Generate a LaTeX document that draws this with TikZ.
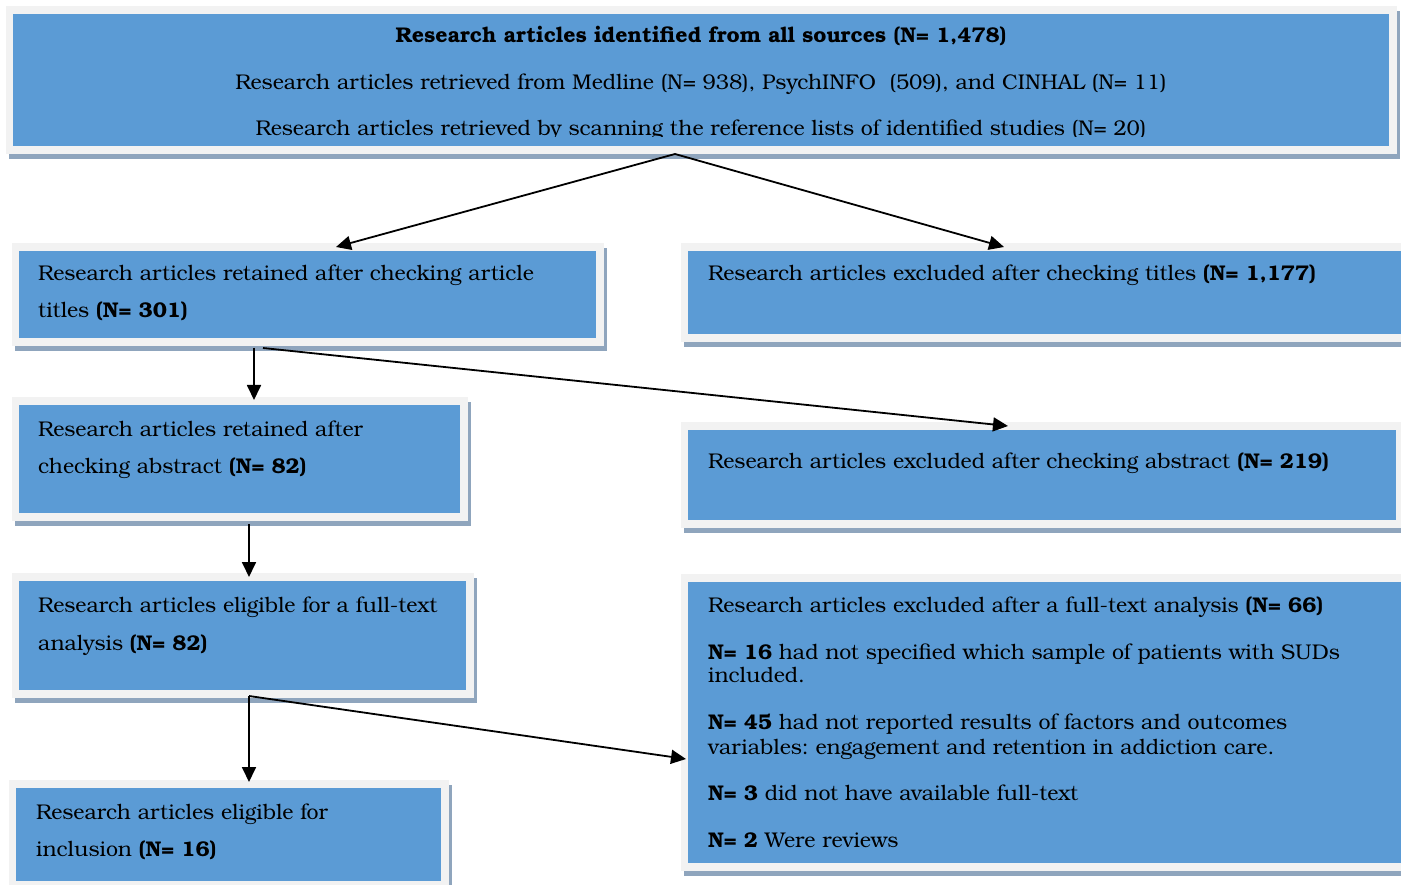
\documentclass[tikz,border=0pt]{standalone}
\usepackage{fontspec}
\setmainfont{TeX Gyre Bonum}
\usetikzlibrary{arrows.meta}
\definecolor{boxblue}{RGB}{91,155,213}
\definecolor{framegray}{RGB}{242,242,242}
\definecolor{shadowc}{RGB}{143,165,189}
\tikzset{
  bluebox/.style={fill=boxblue, draw=none, inner sep=0pt, outer sep=0pt, anchor=north west},
  txt/.style={anchor=base west, inner sep=0pt, font=\fontsize{21.3}{25}\selectfont\frenchspacing},
  ctxt/.style={anchor=base, inner sep=0pt, font=\fontsize{21.3}{25}\selectfont\frenchspacing},
  arr/.style={draw=black, line width=1.8pt, -{Triangle[length=15pt,width=14pt]}},
}
\newcommand\flowbox[5]{%
  \fill[shadowc] (#2-4,#3-3) rectangle (#4+11,#5+13);
  \fill[framegray] (#2-7,#3-8) rectangle (#4+8,#5+8);
  \node[bluebox, minimum width={(#4-#2)*1pt}, minimum height={(#5-#3)*1pt}] (#1) at (#2,#3) {};
}
\begin{document}
\begin{tikzpicture}[x=1pt,y=-1pt]
\clip (0,0) rectangle (1401,885);
\fill[white] (0,0) rectangle (1401,885);

% boxes
\flowbox{top}{13}{14}{1389}{146}
\flowbox{ret1}{19}{251}{596}{338}
\flowbox{exc1}{688}{251}{1410}{334}
\flowbox{ret2}{19}{405}{460}{513}
\flowbox{exc2}{688}{430}{1396}{520}
\flowbox{elig}{19}{581}{466}{690}
\flowbox{exc3}{688}{582}{1410}{863}
\flowbox{incl}{16}{788}{441}{881}

% top box text
\node[ctxt] (t1) at (701,43) {\textbf{Research articles identified from all sources (N= 1,478)}};
\node[ctxt] (t2) at (701,90) {Research articles retrieved from Medline (N= 938), PsychINFO\ \ (509), and CINHAL (N= 11)};
\begin{scope}
  \clip (13,100) rectangle (1389,137);
  \node[ctxt] (t3) at (701,136) {Research articles retrieved by scanning the reference lists of identified studies (N= 20)};
\end{scope}

% left column text
\node[txt] (r1a) at (38,281) {Research articles retained after checking article};
\node[txt] (r1b) at (38,318) {titles \textbf{(N= 301)}};
\node[txt] (r2a) at (38,436) {Research articles retained after};
\node[txt] (r2b) at (38,473) {checking abstract \textbf{(N= 82)}};
\node[txt] (ela) at (38,612) {Research articles eligible for a full-text};
\node[txt] (elb) at (38,650) {analysis \textbf{(N= 82)}};
\node[txt] (ina) at (36,819) {Research articles eligible for};
\node[txt] (inb) at (36,856) {inclusion \textbf{(N= 16)}};

% right column text
\node[txt] (e1) at (708,281) {Research articles excluded after checking titles \textbf{(N= 1,177)}};
\node[txt] (e2) at (708,468) {Research articles excluded after checking abstract \textbf{(N= 219)}};
\node[txt] (e3a) at (708,612) {Research articles excluded after a full-text analysis \textbf{(N= 66)}};
\node[txt] (e3b) at (708,659) {\textbf{N= 16} had not specified which sample of patients with SUDs};
\node[txt] (e3c) at (708,682) {included.};
\node[txt] (e3d) at (708,729) {\textbf{N= 45} had not reported results of factors and outcomes};
\node[txt] (e3e) at (708,754) {variables: engagement and retention in addiction care.};
\node[txt] (e3f) at (708,800) {\textbf{N= 3} did not have available full-text};
\node[txt] (e3g) at (708,847) {\textbf{N= 2} Were reviews};

% connectors
\draw[arr] ([xshift=-26pt,yshift=-8pt]top.south) -- ([xshift=28.5pt,yshift=4pt]ret1.north);
\draw[arr] ([xshift=-26pt,yshift=-8pt]top.south) -- ([xshift=-45pt,yshift=4pt]exc1.north);
\draw[arr] ([xshift=-53.5pt,yshift=-10pt]ret1.south) -- ([xshift=14.5pt,yshift=5pt]ret2.north);
\draw[arr] ([xshift=-44.5pt,yshift=-10pt]ret1.south) -- ([xshift=-34pt,yshift=4pt]exc2.north);
\draw[arr] ([xshift=9.5pt,yshift=-11pt]ret2.south) -- ([xshift=6.5pt,yshift=4pt]elig.north);
\draw[arr] ([xshift=6.5pt,yshift=-6pt]elig.south) -- ([xshift=20.5pt,yshift=6pt]incl.north);
\draw[arr] ([xshift=6.5pt,yshift=-6pt]elig.south) -- ([xshift=-2pt,yshift=-36.5pt]exc3.west);
\end{tikzpicture}
\end{document}
